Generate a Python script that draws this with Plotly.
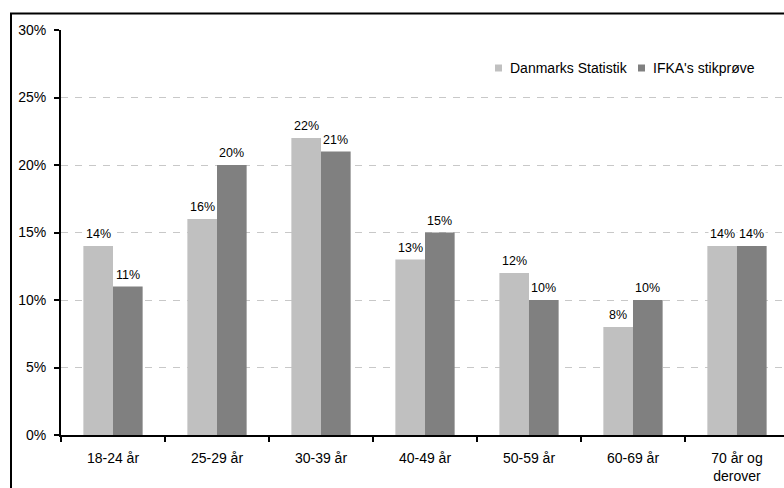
import plotly.graph_objects as go

categories = ["18-24 år", "25-29 år", "30-39 år", "40-49 år", "50-59 år", "60-69 år", "70 år og<br>derover"]
danmarks_statistik = [14, 16, 22, 13, 12, 8, 14]
ifka_stikproeve = [11, 20, 21, 15, 10, 10, 14]
series_names = ["Danmarks Statistik", "IFKA's stikprøve"]
series_colors = ["#C0C0C0", "#808080"]
y_ticks = [0, 5, 10, 15, 20, 25, 30]

font_family = "Liberation Sans, Arial, sans-serif"

# geometry helpers (pixels -> paper)
L, R, T, B = 61, 0, 30, 53
PW, PH = 784 - L - R, 488 - T - B
def px(x):
    return (x - L) / PW
def py(y):
    return (488 - B - y) / PH

fig = go.Figure()
for name, vals, col in zip(series_names, [danmarks_statistik, ifka_stikproeve], series_colors):
    fig.add_trace(go.Bar(
        x=categories, y=vals, name=name,
        marker=dict(color=col, line=dict(width=0)),
        showlegend=False, hoverinfo="x+y",
    ))

bargap = 0.43
cat_px = PW / 6.952
half_bar = cat_px * (1 - bargap) / 4

annotations = []
for si, vals in enumerate([danmarks_statistik, ifka_stikproeve]):
    shift = -half_bar if si == 0 else half_bar
    for c, v in zip(categories, vals):
        annotations.append(dict(
            x=c, y=v, xref="x", yref="y", text=f"{v}%", showarrow=False,
            xshift=shift, yshift=3, yanchor="bottom", xanchor="center",
            font=dict(size=12.5, color="black", family=font_family),
            bgcolor="white", borderpad=1,
        ))

# custom legend
legend_items = [(495, 509), (638, 652)]
shapes = []
for (mx, tx), name, col in zip(legend_items, series_names, series_colors):
    shapes.append(dict(type="rect", xref="paper", yref="paper",
                       x0=px(mx), x1=px(mx + 7), y0=py(71.5), y1=py(64.5),
                       fillcolor=col, line=dict(width=0)))
    annotations.append(dict(x=px(tx - 1), y=py(68), xref="paper", yref="paper",
                            text=name, showarrow=False, xanchor="left", yanchor="middle",
                            font=dict(size=14, color="black", family=font_family)))

shapes.append(dict(type="rect", xref="paper", yref="paper",
                   x0=px(11), x1=1.05, y0=-0.3, y1=py(13.5),
                   line=dict(color="black", width=2), fillcolor="rgba(0,0,0,0)", layer="below"))

fig.update_layout(
    width=784, height=488,
    margin=dict(l=L, r=R, t=T, b=B),
    paper_bgcolor="white", plot_bgcolor="white",
    font=dict(family=font_family, size=14, color="black"),
    barmode="group", bargap=bargap, bargroupgap=0,
    showlegend=False,
    annotations=annotations, shapes=shapes,
)
fig.update_xaxes(
    range=[-0.5, 6.452], showline=True, linewidth=2, linecolor="black",
    ticks="outside", tickson="boundaries", ticklen=5, tickwidth=2, tickcolor="black",
    showgrid=False, tickfont=dict(size=14), ticklabelstandoff=9, fixedrange=True,
)
fig.update_yaxes(
    range=[0, 30], tickvals=y_ticks, ticktext=[f"{v}%" for v in y_ticks],
    showline=True, linewidth=2, linecolor="black",
    ticks="outside", ticklen=5, tickwidth=2, tickcolor="black",
    showgrid=True, gridcolor="#C8C8C8", griddash="7px,7px", gridwidth=1,
    zeroline=False, tickfont=dict(size=14), ticklabelstandoff=5, fixedrange=True,
)

fig.write_html("out.html")
